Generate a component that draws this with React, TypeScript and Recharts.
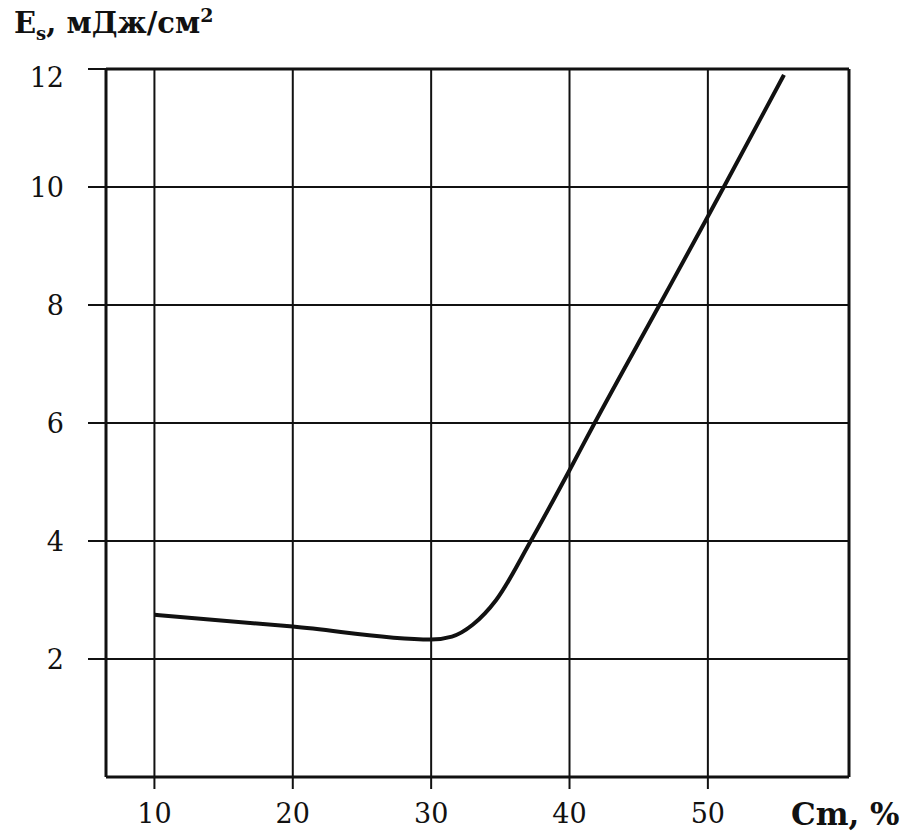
import React from "react";
import {
  LineChart,
  Line,
  XAxis,
  YAxis,
  CartesianGrid,
  ReferenceLine,
} from "recharts";

// Cm, % (x) and Es, мДж/см² (y)
const cmPercent = [10, 20, 30, 31.5, 33, 34.7, 37.2, 40, 41.7, 46.5, 50, 51.2, 55.5];
const energy = [2.75, 2.55, 2.33, 2.38, 2.58, 3.0, 4.0, 5.2, 5.95, 8.0, 9.5, 10.02, 11.9];

const xTicks = [10, 20, 30, 40, 50];
const yTicks = [2, 4, 6, 8, 10, 12];

const X_MIN = 6.5;
const X_MAX = 60.2;

const font = "'DejaVu Serif', 'Liberation Serif', serif";
const ink = "#111";

// the "12" label sits a bit below the top border in the original
function YTick(props: any) {
  const { x, y, payload } = props;
  const dy = payload.value === 12 ? 8 : 0;
  return (
    <text
      x={x}
      y={y + dy}
      dy="0.355em"
      textAnchor="end"
      fontSize={27}
      fontFamily={font}
      fill={ink}
    >
      {payload.value}
    </text>
  );
}

export default function App() {
  const data = cmPercent.map((x, i) => ({ x, es: energy[i] }));

  return (
    <div
      style={{
        position: "absolute",
        left: 0,
        top: 0,
        width: 918,
        height: 837,
        background: "#fff",
      }}
    >
      <LineChart
        width={918}
        height={837}
        data={data}
        margin={{ top: 69, right: 69, bottom: 10, left: 46 }}
      >
        <CartesianGrid stroke={ink} strokeWidth={2} />
        <XAxis
          dataKey="x"
          type="number"
          domain={[X_MIN, X_MAX]}
          ticks={xTicks}
          height={50}
          axisLine={{ stroke: ink, strokeWidth: 3 }}
          tickLine={{ stroke: ink, strokeWidth: 2 }}
          tickSize={12}
          tickMargin={15}
          tick={{ fontSize: 27, fontFamily: font, fill: ink }}
        />
        <YAxis
          type="number"
          domain={[0, 12]}
          ticks={yTicks}
          width={60}
          axisLine={{ stroke: ink, strokeWidth: 3 }}
          tickLine={{ stroke: ink, strokeWidth: 2 }}
          tickSize={18}
          tickMargin={24}
          tick={<YTick />}
        />
        <ReferenceLine y={12} stroke={ink} strokeWidth={3} />
        <ReferenceLine x={X_MAX} stroke={ink} strokeWidth={3} />
        <Line
          type="monotone"
          dataKey="es"
          stroke={ink}
          strokeWidth={4}
          dot={false}
          isAnimationActive={false}
        />
      </LineChart>

      <div
        style={{
          position: "absolute",
          left: 14,
          top: 6,
          fontFamily: font,
          fontWeight: "bold",
          fontSize: 29,
          lineHeight: "34px",
          color: ink,
          whiteSpace: "nowrap",
        }}
      >
        E<sub style={{ fontSize: 18, lineHeight: 0 }}>s</sub>, мДж/см
        <sup style={{ fontSize: 19, lineHeight: 0 }}>2</sup>
      </div>

      <div
        style={{
          position: "absolute",
          left: 791,
          top: 796,
          fontFamily: font,
          fontWeight: "bold",
          fontSize: 31,
          lineHeight: "36px",
          color: ink,
          whiteSpace: "nowrap",
        }}
      >
        Cm, %
      </div>
    </div>
  );
}
